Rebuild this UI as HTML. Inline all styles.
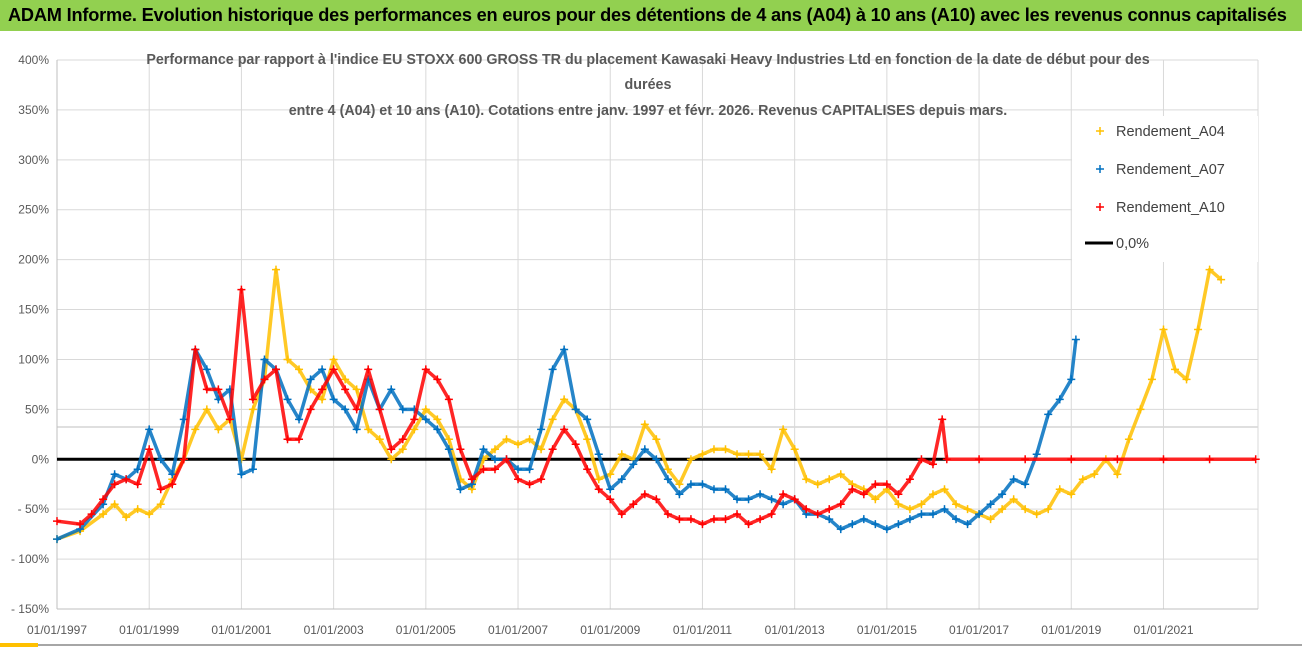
<!DOCTYPE html>
<html><head><meta charset="utf-8"><style>
body{margin:0;width:1302px;height:647px;overflow:hidden;background:#fff;font-family:"Liberation Sans",sans-serif}
#hdr{position:absolute;left:0;top:0;width:1302px;height:31px;background:#92D050;font-weight:bold;font-size:18.2px;line-height:31px;padding-left:8px;box-sizing:border-box;color:#000;white-space:nowrap;letter-spacing:-0.2px}
</style></head><body>
<div id="hdr">ADAM Informe. Evolution historique des performances en euros pour des détentions de 4 ans (A04) à 10 ans (A10) avec les revenus connus capitalisés</div>
<svg id="chart" width="1302" height="647" style="position:absolute;left:0;top:0"></svg>
<script>
const yTicks=[400,350,300,250,200,150,100,50,0,-50,-100,-150];
const yTickLabels=["400%","350%","300%","250%","200%","150%","100%","50%","0%","- 50%","- 100%","- 150%"];
const xTicks=[1997,1999,2001,2003,2005,2007,2009,2011,2013,2015,2017,2019,2021];
const xTickLabels=["01/01/1997","01/01/1999","01/01/2001","01/01/2003","01/01/2005","01/01/2007","01/01/2009","01/01/2011","01/01/2013","01/01/2015","01/01/2017","01/01/2019","01/01/2021"];
const a04x=[1997,1997.5,1998,1998.25,1998.5,1998.75,1999,1999.25,1999.5,1999.75,2000,2000.25,2000.5,2000.75,2001,2001.25,2001.5,2001.75,2002,2002.25,2002.5,2002.75,2003,2003.25,2003.5,2003.75,2004,2004.25,2004.5,2004.75,2005,2005.25,2005.5,2005.75,2006,2006.25,2006.5,2006.75,2007,2007.25,2007.5,2007.75,2008,2008.25,2008.5,2008.75,2009,2009.25,2009.5,2009.75,2010,2010.25,2010.5,2010.75,2011,2011.25,2011.5,2011.75,2012,2012.25,2012.5,2012.75,2013,2013.25,2013.5,2013.75,2014,2014.25,2014.5,2014.75,2015,2015.25,2015.5,2015.75,2016,2016.25,2016.5,2016.75,2017,2017.25,2017.5,2017.75,2018,2018.25,2018.5,2018.75,2019,2019.25,2019.5,2019.75,2020,2020.25,2020.5,2020.75,2021,2021.25,2021.5,2021.75,2022,2022.25];
const a04y=[-80,-72,-55,-45,-58,-50,-55,-45,-20,0,30,50,30,40,0,50,80,190,100,90,70,60,100,80,70,30,20,0,10,30,50,40,20,-20,-30,0,10,20,15,20,10,40,60,50,20,-20,-15,5,0,35,20,-10,-25,0,5,10,10,5,5,5,-10,30,10,-20,-25,-20,-15,-25,-30,-40,-30,-45,-50,-45,-35,-30,-45,-50,-55,-60,-50,-40,-50,-55,-50,-30,-35,-20,-15,0,-15,20,50,80,130,90,80,130,190,180];
const a07x=[1997,1997.5,1998,1998.25,1998.5,1998.75,1999,1999.25,1999.5,1999.75,2000,2000.25,2000.5,2000.75,2001,2001.25,2001.5,2001.75,2002,2002.25,2002.5,2002.75,2003,2003.25,2003.5,2003.75,2004,2004.25,2004.5,2004.75,2005,2005.25,2005.5,2005.75,2006,2006.25,2006.5,2006.75,2007,2007.25,2007.5,2007.75,2008,2008.25,2008.5,2008.75,2009,2009.25,2009.5,2009.75,2010,2010.25,2010.5,2010.75,2011,2011.25,2011.5,2011.75,2012,2012.25,2012.5,2012.75,2013,2013.25,2013.5,2013.75,2014,2014.25,2014.5,2014.75,2015,2015.25,2015.5,2015.75,2016,2016.25,2016.5,2016.75,2017,2017.25,2017.5,2017.75,2018,2018.25,2018.5,2018.75,2019,2019.1];
const a07y=[-80,-70,-45,-15,-20,-10,30,0,-15,40,110,90,60,70,-15,-10,100,90,60,40,80,90,60,50,30,80,50,70,50,50,40,30,10,-30,-25,10,0,0,-10,-10,30,90,110,50,40,5,-30,-20,-5,10,0,-20,-35,-25,-25,-30,-30,-40,-40,-35,-40,-45,-40,-55,-55,-60,-70,-65,-60,-65,-70,-65,-60,-55,-55,-50,-60,-65,-55,-45,-35,-20,-25,5,45,60,80,120];
const a10x=[1997,1997.5,1997.75,1998,1998.25,1998.5,1998.75,1999,1999.25,1999.5,1999.75,2000,2000.25,2000.5,2000.75,2001,2001.25,2001.5,2001.75,2002,2002.25,2002.5,2002.75,2003,2003.25,2003.5,2003.75,2004,2004.25,2004.5,2004.75,2005,2005.25,2005.5,2005.75,2006,2006.25,2006.5,2006.75,2007,2007.25,2007.5,2007.75,2008,2008.25,2008.5,2008.75,2009,2009.25,2009.5,2009.75,2010,2010.25,2010.5,2010.75,2011,2011.25,2011.5,2011.75,2012,2012.25,2012.5,2012.75,2013,2013.25,2013.5,2013.75,2014,2014.25,2014.5,2014.75,2015,2015.25,2015.5,2015.75,2016,2016.2,2016.3,2017,2018,2019,2020,2021,2022,2023];
const a10y=[-62,-65,-55,-40,-25,-20,-25,10,-30,-25,0,110,70,70,40,170,60,80,90,20,20,50,70,90,70,50,90,50,10,20,40,90,80,60,10,-20,-10,-10,0,-20,-25,-20,10,30,15,-10,-30,-40,-55,-45,-35,-40,-55,-60,-60,-65,-60,-60,-55,-65,-60,-55,-35,-40,-50,-55,-50,-45,-30,-35,-25,-25,-35,-20,0,-5,40,0,0,0,0,0,0,0,0];
const NS="http://www.w3.org/2000/svg";
const svg=document.getElementById('chart');
const X0=57,X1=1258,Y0=60,Y1=609,XMIN=1997,XMAX=2023.05,YMIN=-150,YMAX=400;
function sx(v){return X0+(v-XMIN)/(XMAX-XMIN)*(X1-X0);}
function sy(v){return Y1-(v-YMIN)/(YMAX-YMIN)*(Y1-Y0);}
function mk(t,a,p){const e=document.createElementNS(NS,t);for(const k in a)e.setAttribute(k,a[k]);(p||svg).appendChild(e);return e;}
const grid=mk('g',{});


yTicks.forEach((v,i)=>{
  mk('line',{x1:X0,x2:X1,y1:sy(v),y2:sy(v),stroke:'#d9d9d9','stroke-width':1},grid);
  const t=mk('text',{x:49,y:sy(v)+4,'text-anchor':'end','font-size':12,fill:'#595959'});
  
  
  t.textContent=yTickLabels[i];
});
mk('line',{x1:X0,x2:X1,y1:427,y2:427,stroke:'#bfbfbf','stroke-width':1},grid);
xTicks.forEach((v,i)=>{
  mk('line',{x1:sx(v),x2:sx(v),y1:Y0,y2:Y1,stroke:'#d9d9d9','stroke-width':1},grid);
  const t=mk('text',{x:sx(v),y:634,'text-anchor':'middle','font-size':12,fill:'#595959'});
  
  
  t.textContent=xTickLabels[i];
});
mk('line',{x1:X1,x2:X1,y1:Y0,y2:Y1,stroke:'#d9d9d9'},grid);
mk('line',{x1:X0,x2:X1,y1:Y1,y2:Y1,stroke:'#bfbfbf'},grid);
mk('line',{x1:X0,x2:X0,y1:Y0,y2:Y1,stroke:'#bfbfbf'},grid);
const zl=mk('line',{x1:sx(1997),x2:sx(2016.3),y1:sy(0),y2:sy(0),stroke:'#000','stroke-width':3});


function series(xs,ys,color,name){
  const g=mk('g',{});
  
  
  mk('polyline',{points:xs.map((x,i)=>sx(x)+','+sy(ys[i])).join(' '),fill:'none',stroke:color,'stroke-width':3.5,'stroke-linejoin':'round','opacity':0.85},g);
  xs.forEach((x,i)=>{
    const px=sx(x),py=sy(ys[i]);
    const p=mk('path',{d:`M${px-4},${py}h8M${px},${py-4}v8`,stroke:color,'stroke-width':1.5},g);
    
    
  });
}
series(a04x,a04y,'#FFC000','series-a04');
series(a07x,a07y,'#0070C0','series-a07');
series(a10x,a10y,'#FF0000','series-a10');
const lg=mk('g',{});


mk('rect',{x:1072,y:116,width:186,height:146,fill:'#fff'},lg);
[['Rendement_A04','#FFC000',131],['Rendement_A07','#0070C0',169],['Rendement_A10','#FF0000',207]].forEach(d=>{
  mk('path',{d:`M${1096},${d[2]}h8M1100,${d[2]-4}v8`,stroke:d[1],'stroke-width':1.5},lg);
  const t=mk('text',{x:1116,y:d[2]+5,'font-size':14.5,fill:'#404040'},lg);
  
  
  t.textContent=d[0];
});
mk('line',{x1:1085,x2:1113,y1:243,y2:243,stroke:'#000','stroke-width':3},lg);
const lz=mk('text',{x:1116,y:248,'font-size':14.5,fill:'#404040'},lg);


lz.textContent='0,0%';
const tg=mk('g',{});


[["Performance par rapport à l'indice EU STOXX 600 GROSS TR  du placement Kawasaki Heavy Industries Ltd en fonction de la date de début pour des",648,64],["durées",648,89],["entre 4 (A04) et 10 ans (A10). Cotations entre janv. 1997 et févr. 2026. Revenus CAPITALISES depuis mars.",648,115]].forEach(d=>{
  const t=mk('text',{x:d[1],y:d[2],'text-anchor':'middle','font-size':14.3,'font-weight':'bold',fill:'#595959'},tg);
  t.textContent=d[0];
});
mk('line',{x1:0,x2:1302,y1:645,y2:645,stroke:'#a6a6a6','stroke-width':2});
mk('rect',{x:0,y:643,width:38,height:4,fill:'#FFC000'});
</script>
</body></html>
